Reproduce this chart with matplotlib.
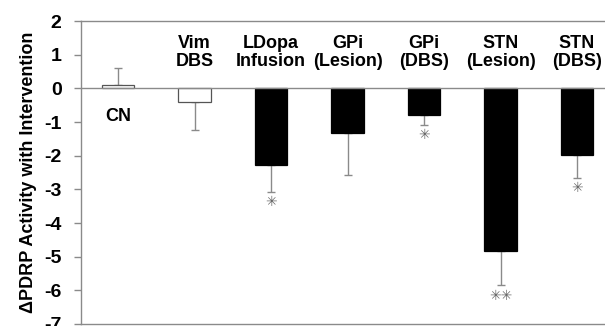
import matplotlib.pyplot as plt
import numpy as np

plt.rcParams['font.family'] = ['Liberation Sans', 'DejaVu Sans']

labels = ['CN', 'Vim\nDBS', 'LDopa\nInfusion', 'GPi\n(Lesion)', 'GPi\n(DBS)', 'STN\n(Lesion)', 'STN\n(DBS)']
values = [0.1, -0.4, -2.28, -1.32, -0.78, -4.83, -1.98]
errors = [0.5, 0.85, 0.8, 1.25, 0.3, 1.02, 0.68]
filled = [False, False, True, True, True, True, True]
stars = ['', '', '*', '', '*', '**', '*']

fig = plt.figure(figsize=(6.05, 3.26), dpi=100)
ax = fig.add_axes([81 / 605, 2 / 326, 1 - 81 / 605, 303 / 326])

x = np.arange(len(values))
grey = '#8a8a8a'
for xi, v, e, f, s in zip(x, values, errors, filled, stars):
    ax.bar(xi, v, width=0.42, color='black' if f else 'white',
           edgecolor='black' if f else '#555555', linewidth=0.9, zorder=2)
    ax.errorbar(xi, v, yerr=[[0], [e]] if v > 0 else [[e], [0]], fmt='none',
                ecolor=grey, elinewidth=1, capsize=3, capthick=1, zorder=1)
    if s:
        ax.text(xi, v - e - 0.1, s.replace('*', '\u2733'), ha='center', va='top',
                fontsize=10, color='#666666', family=['DejaVu Sans'])

for xi, lab in zip(x, labels):
    if lab == 'CN':
        ax.text(xi, -0.84, lab, ha='center', va='center', fontsize=13, fontweight='bold')
    else:
        ax.text(xi, 1.06, lab, ha='center', va='center', fontsize=13,
                fontweight='bold', linespacing=1.1)

ax.axhline(0, color=grey, linewidth=1, zorder=3)
ax.set_xlim(-0.484, 6.366)
ax.set_ylim(-7, 2)
ax.set_yticks(np.arange(-7, 3, 1))
ax.set_yticklabels([str(t) for t in range(-7, 3)], fontsize=14, fontweight='bold')
ax.set_xticks([])
for side in ['left', 'top', 'bottom']:
    ax.spines[side].set_color(grey)
    ax.spines[side].set_linewidth(1)
ax.spines['right'].set_visible(False)
ax.tick_params(axis='y', color=grey, length=5, width=1, pad=9)
ax.set_ylabel('\u0394PDRP Activity with Intervention', fontsize=13, fontweight='bold', labelpad=5)

fig.savefig('out.png', dpi=100)
